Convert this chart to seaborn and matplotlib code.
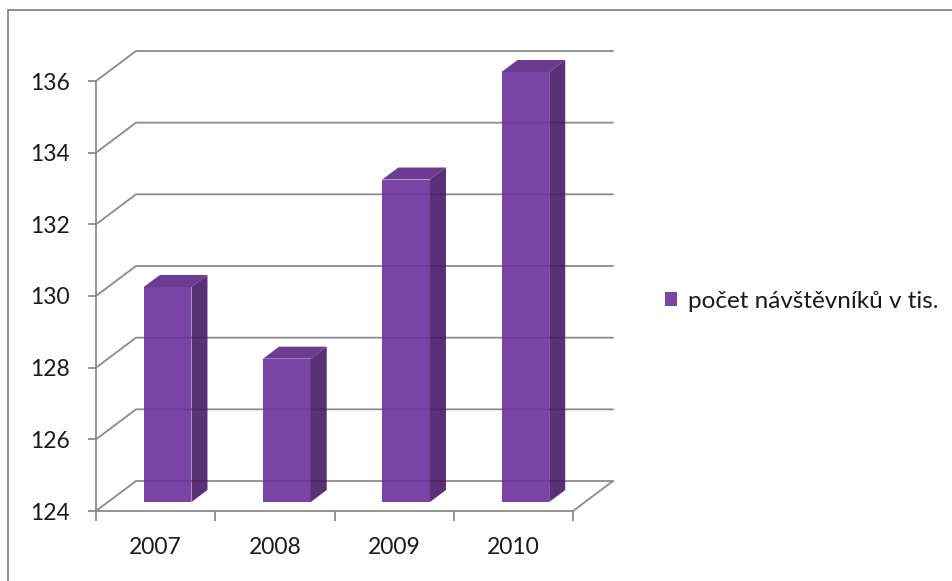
import matplotlib
matplotlib.use("Agg")
import matplotlib.pyplot as plt
from matplotlib.patches import Polygon, Rectangle, Patch
from matplotlib.lines import Line2D
import seaborn as sns
import pandas as pd

# Visitors per year (thousands)
years = ["2007", "2008", "2009", "2010"]
visitors = [130, 128, 133, 136]
series_label = "počet návštěvníků v tis."
y_ticks = [124, 126, 128, 130, 132, 134, 136]

FRONT = "#6c2f9c"
SIDE = "#481a69"
TOP = "#5c2686"
LEGEND_SWATCH = "#7b44a6"
GRID = "#8a8a8a"
TEXT = "#1a1a1a"
ALPHA = 0.9

sns.set_theme(style="white")
plt.rcParams["font.family"] = ["Lato", "DejaVu Sans"]

W, H, DPI = 952, 581, 100
fig = plt.figure(figsize=(W / DPI, H / DPI), dpi=DPI)

# plot area (front plane) in pixels
left_px, right_px, bottom_px, top_px = 96, 573, 511, 81
ax = fig.add_axes([left_px / W, 1 - bottom_px / H,
                   (right_px - left_px) / W, (bottom_px - top_px) / H])

df = pd.DataFrame({"year": years, "visitors": visitors})
ymin, ymax = y_ticks[0], y_ticks[-1]
xmin, xmax = -0.5, len(years) - 0.5

bar_w = 0.40
sns.barplot(data=df, x="year", y="visitors", color=FRONT, width=bar_w,
            saturation=1, ax=ax, zorder=3)
ax.set_xlim(xmin, xmax)
ax.set_ylim(ymin, ymax)

# pixel -> data conversion for the depth direction
ux = (right_px - left_px) / (xmax - xmin)
uy = (bottom_px - top_px) / (ymax - ymin)
depth_x, depth_y = 40 / ux, 30 / uy          # full depth of the floor
f0, f1 = 0.3, 0.7                            # bar front / back depth fractions

# back wall and left wall gridlines
for v in y_ticks:
    ax.add_line(Line2D([xmin, xmin + depth_x, xmax + depth_x],
                       [v, v + depth_y, v + depth_y],
                       color=GRID, lw=1.3, clip_on=False, zorder=1))
# right edge of the floor
ax.add_line(Line2D([xmax, xmax + depth_x], [ymin, ymin + depth_y],
                   color=GRID, lw=1.3, clip_on=False, zorder=1))

# turn the flat bars into prisms
for patch, val in zip(ax.patches, visitors):
    x0 = patch.get_x()
    w = patch.get_width()
    patch.set_x(x0 + f0 * depth_x)
    patch.set_y(ymin + f0 * depth_y)
    patch.set_height(val - ymin)
    patch.set_alpha(ALPHA)
    patch.set_linewidth(0)
    patch.set_clip_on(False)
    fx0 = x0 + f0 * depth_x
    fx1 = fx0 + w
    fy0 = ymin + f0 * depth_y
    fy1 = val + f0 * depth_y
    ddx = (f1 - f0) * depth_x
    ddy = (f1 - f0) * depth_y
    side = Polygon([(fx1, fy0), (fx1, fy1), (fx1 + ddx, fy1 + ddy), (fx1 + ddx, fy0 + ddy)],
                   closed=True, facecolor=SIDE, edgecolor="none", alpha=ALPHA,
                   clip_on=False, zorder=3)
    top = Polygon([(fx0, fy1), (fx1, fy1), (fx1 + ddx, fy1 + ddy), (fx0 + ddx, fy1 + ddy)],
                  closed=True, facecolor=TOP, edgecolor="none", alpha=ALPHA,
                  clip_on=False, zorder=3)
    ax.add_patch(side)
    ax.add_patch(top)

# axes styling
for s in ["top", "right"]:
    ax.spines[s].set_visible(False)
for s in ["left", "bottom"]:
    ax.spines[s].set_color(GRID)
    ax.spines[s].set_linewidth(1.3)
    ax.spines[s].set_zorder(2)

ax.set_xlabel("")
ax.set_ylabel("")
ax.set_yticks(y_ticks)
ax.set_yticklabels([str(t) for t in y_ticks])
ax.tick_params(axis="y", which="major", direction="out", length=6, width=1.3,
               color=GRID, pad=13, labelsize=16.5, labelcolor=TEXT, left=True)
ax.set_xticks(range(len(years)))
ax.set_xticklabels(years)
ax.set_xticks([i - 0.5 for i in range(len(years) + 1)], minor=True)
ax.tick_params(axis="x", which="major", length=0, pad=19, labelsize=16.5,
               labelcolor=TEXT)
ax.tick_params(axis="x", which="minor", direction="out", length=7, width=1.3,
               color=GRID, bottom=True)
ax.patch.set_alpha(0)

# legend
handle = Patch(facecolor=LEGEND_SWATCH, edgecolor="none")
fig.legend([handle], [series_label], loc="center left",
           bbox_to_anchor=(655 / W, 1 - 301 / H), frameon=False,
           fontsize=17.5, handlelength=0.5, handleheight=0.5,
           handletextpad=0.45, labelcolor=TEXT, borderaxespad=0)

# chart area border
fig.add_artist(Rectangle((8 / W, -0.1), 1.2, 1 - 10 / H + 0.1,
                         transform=fig.transFigure, fill=False,
                         edgecolor="#868686", lw=1.3))

fig.savefig("out.png", dpi=DPI)
